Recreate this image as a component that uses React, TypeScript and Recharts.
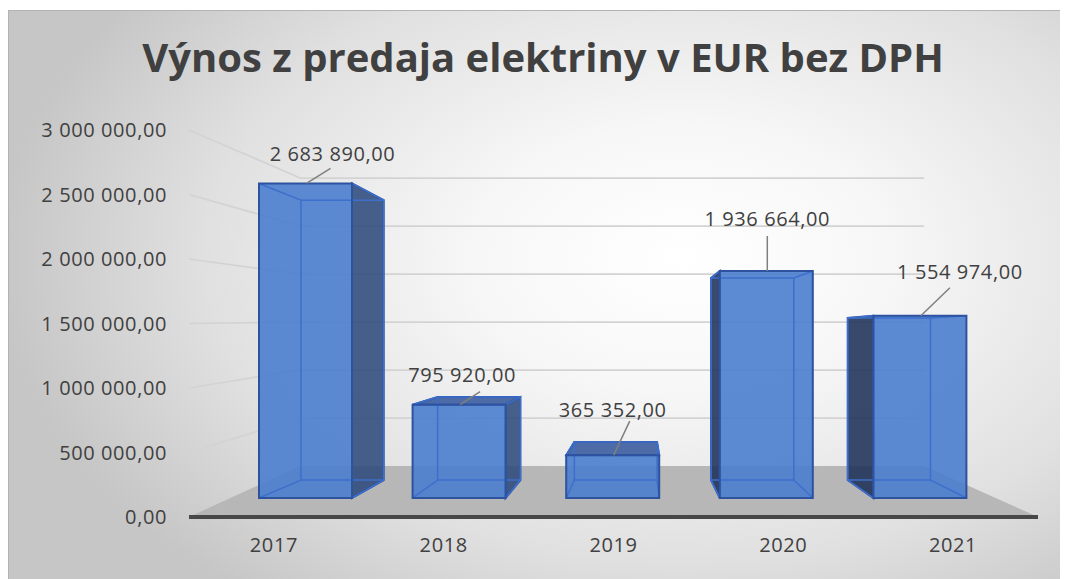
import { Bar, BarChart, LabelList, ReferenceArea, ReferenceLine, XAxis, YAxis } from "recharts";

const years = ["2017", "2018", "2019", "2020", "2021"];
const revenue = [2683890, 795920, 365352, 1936664, 1554974];
const yTicks = [0, 500000, 1000000, 1500000, 2000000, 2500000, 3000000];
const title = "Výnos z predaja elektriny v EUR bez DPH";

const data = years.map((year, i) => ({ year, revenue: revenue[i] }));

// layout of the fake 3D scene
const W = 1060;
const H = 573;
const BAR_DOMAIN = [-162100, 3140000];
const WALL_DOMAIN = [-531250, 3500000];
const WALL_K = (WALL_DOMAIN[1] - WALL_DOMAIN[0]) / 3000000;
const DEPTH_MAX = 4;
const WALL_L = 0.131 * DEPTH_MAX;
const WALL_R = 0.866 * DEPTH_MAX;
const VP = { x: 631, y: 324 };
const DEPTH = 0.89;
// label placement relative to bar top centre: text dx, dy, leader end dx, dy
const NUDGE = [
  [27, -30, 25, -15],
  [3, -30, 21, -13],
  [0, -46, 17, -34],
  [1, -53, 1, -35],
  [40, -44, 30, -28],
];

const FONT = "'Open Sans', sans-serif";
const TEXT = "#404040";
const GRID = "#d3d3d3";

const fmt = (v: number) => {
  const [i, d] = Math.abs(v).toFixed(2).split(".");
  return (v < 0 ? "-" : "") + i.replace(/\B(?=(\d{3})+(?!\d))/g, " ") + "," + d;
};

function Box3D(p: any) {
  const { x, y, width: w, height: h } = p;
  if (h == null || w == null) return null;
  const back = (q: number[]) => [VP.x + DEPTH * (q[0] - VP.x), VP.y + DEPTH * (q[1] - VP.y)];
  const F = [[x, y], [x + w, y], [x + w, y + h], [x, y + h]];
  const B = F.map(back);
  const pts = (a: number[][]) => a.map((q) => q.join(",")).join(" ");
  const edge = "#2c52a0";
  const inner = "#3d6fcc";
  return (
    <g>
      {B[1][0] > F[1][0] && (
        <polygon points={pts([F[1], B[1], B[2], F[2]])} fill="#2f4a7c" fillOpacity={0.88} stroke={edge} strokeWidth={2} />
      )}
      {B[0][0] < F[0][0] && (
        <polygon points={pts([F[0], B[0], B[3], F[3]])} fill="#1f3158" fillOpacity={0.88} stroke={edge} strokeWidth={2} />
      )}
      {B[0][1] < F[0][1] && (
        <polygon points={pts([F[0], F[1], B[1], B[0]])} fill="#3a5c9e" fillOpacity={0.9} stroke={edge} strokeWidth={2} />
      )}
      <polygon points={pts(F)} fill="#4a7dce" fillOpacity={0.9} />
      <polygon points={pts(B)} fill="none" stroke={inner} strokeWidth={1.5} />
      {F.map((q, i) => (
        <line key={i} x1={q[0]} y1={q[1]} x2={B[i][0]} y2={B[i][1]} stroke={inner} strokeWidth={1.5} />
      ))}
      <polygon points={pts(F)} fill="none" stroke={edge} strokeWidth={2} />
    </g>
  );
}

function ValueLabel(p: any) {
  const { x, y, width, value, index } = p;
  const n = NUDGE[index] || [0, -30, 0, -15];
  const cx = x + width / 2;
  return (
    <g>
      <line x1={cx + 1} y1={y} x2={cx + n[2]} y2={y + n[3]} stroke="#7f7f7f" strokeWidth={1.5} />
      <text
        x={cx + n[0]}
        y={y + n[1]}
        textAnchor="middle"
        dominantBaseline="central"
        fontSize={20}
        letterSpacing={0.6}
        fontFamily={FONT}
        fill={TEXT}
      >
        {fmt(value)}
      </text>
    </g>
  );
}

function Floor(p: any) {
  const { x, y, width, height } = p;
  const l = x + (width * WALL_L) / DEPTH_MAX;
  const r = x + (width * WALL_R) / DEPTH_MAX;
  return <polygon points={`${x},${y + height} ${l},${y} ${r},${y} ${x + width},${y + height}`} fill="#b7b7b7" />;
}

export default function App() {
  const tick = { fill: TEXT, fontSize: 20, fontFamily: FONT, letterSpacing: 0.6 };
  return (
    <div style={{ position: "relative", marginTop: 2, width: 1060, height: 569, overflow: "hidden" }}>
      <style>{"body{overflow:hidden}"}</style>
      <div
        style={{
          position: "absolute",
          left: 0,
          top: 0,
          width: 1070,
          height: 590,
          boxSizing: "border-box",
          border: "1px solid #b3b3b3",
          background:
            "radial-gradient(ellipse 64% 74% at 63% 42%, #ffffff 0%, #f7f7f7 30%, #e0e0e0 70%, #c6c6c6 100%)",
        }}
      />
      <div
        style={{
          position: "absolute",
          left: 35,
          width: 1000,
          top: 27,
          textAlign: "center",
          fontFamily: FONT,
          fontWeight: 700,
          fontSize: 40,
          lineHeight: "40px",
          color: TEXT,
          whiteSpace: "nowrap",
        }}
      >
        {title}
      </div>
      <div style={{ position: "absolute", left: 1, top: 1 }}>
        <BarChart width={W} height={H} data={data} margin={{ top: 119, right: 31, bottom: 37, left: 0 }}>
          <XAxis xAxisId="depth" type="number" domain={[0, DEPTH_MAX]} hide height={0} allowDataOverflow />
          <XAxis xAxisId="bar" dataKey="year" hide height={0} padding={{ left: 40, right: 41 }} />
          <YAxis yAxisId="bar" type="number" domain={BAR_DOMAIN} hide width={0} allowDataOverflow />
          <YAxis yAxisId="wall" type="number" domain={WALL_DOMAIN} hide width={0} allowDataOverflow />
          <ReferenceArea
            xAxisId="depth"
            yAxisId="wall"
            x1={0}
            x2={DEPTH_MAX}
            y1={WALL_DOMAIN[0]}
            y2={0}
            shape={Floor}
            ifOverflow="visible"
          />
          {yTicks.slice(1).map((v) => (
            <ReferenceLine
              key={`w${v}`}
              xAxisId="depth"
              yAxisId="wall"
              segment={[{ x: WALL_L, y: v }, { x: WALL_R, y: v }]}
              stroke={GRID}
              strokeWidth={1.75}
              ifOverflow="visible"
              zIndex={-100}
            />
          ))}
          {yTicks.slice(1).map((v) => (
            <ReferenceLine
              key={`d${v}`}
              xAxisId="depth"
              yAxisId="wall"
              segment={[{ x: 0, y: v * WALL_K + WALL_DOMAIN[0] }, { x: WALL_L, y: v }]}
              stroke={GRID}
              strokeWidth={1.75}
              ifOverflow="visible"
              zIndex={-100}
            />
          ))}
          <XAxis
            xAxisId="lab"
            dataKey="year"
            height={30}
            tick={tick}
            tickLine={false}
            tickSize={0}
            tickMargin={21}
            axisLine={{ stroke: "#474747", strokeWidth: 4 }}
          />
          <YAxis
            yAxisId="lab"
            type="number"
            domain={[0, 3000000]}
            ticks={yTicks}
            width={180}
            allowDataOverflow
            tick={tick}
            tickFormatter={fmt}
            tickLine={false}
            tickSize={0}
            tickMargin={22}
            axisLine={false}
          />
          <Bar xAxisId="bar" yAxisId="bar" dataKey="revenue" barSize={93} shape={Box3D} isAnimationActive={false}>
            <LabelList dataKey="revenue" content={ValueLabel} />
          </Bar>
        </BarChart>
      </div>
    </div>
  );
}
